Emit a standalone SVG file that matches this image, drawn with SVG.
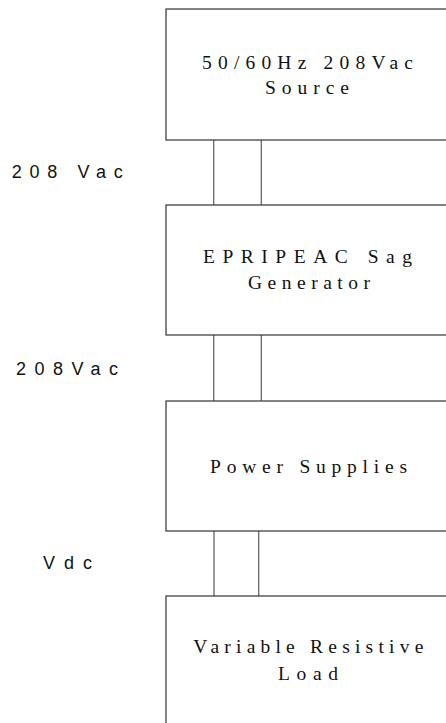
<svg xmlns="http://www.w3.org/2000/svg" width="446" height="723" viewBox="0 0 446 723">
<style>
.box{fill:#fff;stroke:#333;stroke-width:1.2}
.wire{stroke:#666;stroke-width:1.3;fill:none}
.bt{font-family:"Liberation Serif","Times New Roman",serif;font-size:19.5px;fill:#111}
.lt{font-family:"Liberation Sans",Arial,sans-serif;font-size:18px;fill:#111}
</style>
<rect width="446" height="723" fill="#fff"/>
<g id="connectors">
<line class="wire" x1="213.7" y1="140" x2="213.7" y2="205"/>
<line class="wire" x1="261.3" y1="140" x2="261.3" y2="205"/>
<line class="wire" x1="213.7" y1="335" x2="213.7" y2="401"/>
<line class="wire" x1="261.3" y1="335" x2="261.3" y2="401"/>
<line class="wire" x1="214" y1="531" x2="214" y2="596"/>
<line class="wire" x1="258.7" y1="531" x2="258.7" y2="596"/>
</g>
<g id="source">
<rect class="box" x="166" y="9" width="290" height="131"/>
<text class="bt" x="202" y="68.5" textLength="211" lengthAdjust="spacing">50/60Hz 208Vac</text>
<text class="bt" x="265" y="94" textLength="84" lengthAdjust="spacing">Source</text>
</g>
<g id="sag-generator">
<rect class="box" x="166" y="205" width="290" height="130"/>
<text class="bt" x="203" y="263.3" textLength="209" lengthAdjust="spacing">EPRIPEAC Sag</text>
<text class="bt" x="248" y="289.3" textLength="122" lengthAdjust="spacing">Generator</text>
</g>
<g id="power-supplies">
<rect class="box" x="166" y="401" width="290" height="130"/>
<text class="bt" x="210" y="473" textLength="197" lengthAdjust="spacing">Power Supplies</text>
</g>
<g id="load">
<rect class="box" x="166" y="596" width="290" height="140"/>
<text class="bt" x="193.3" y="653.3" textLength="230" lengthAdjust="spacing">Variable Resistive</text>
<text class="bt" x="278" y="680" textLength="60" lengthAdjust="spacing">Load</text>
</g>
<g id="labels">
<text class="lt" x="11.7" y="178.3" textLength="111" lengthAdjust="spacing">208 Vac</text>
<text class="lt" x="16" y="375" textLength="102" lengthAdjust="spacing">208Vac</text>
<text class="lt" x="43" y="569.3" textLength="49" lengthAdjust="spacing">Vdc</text>
</g>
</svg>
